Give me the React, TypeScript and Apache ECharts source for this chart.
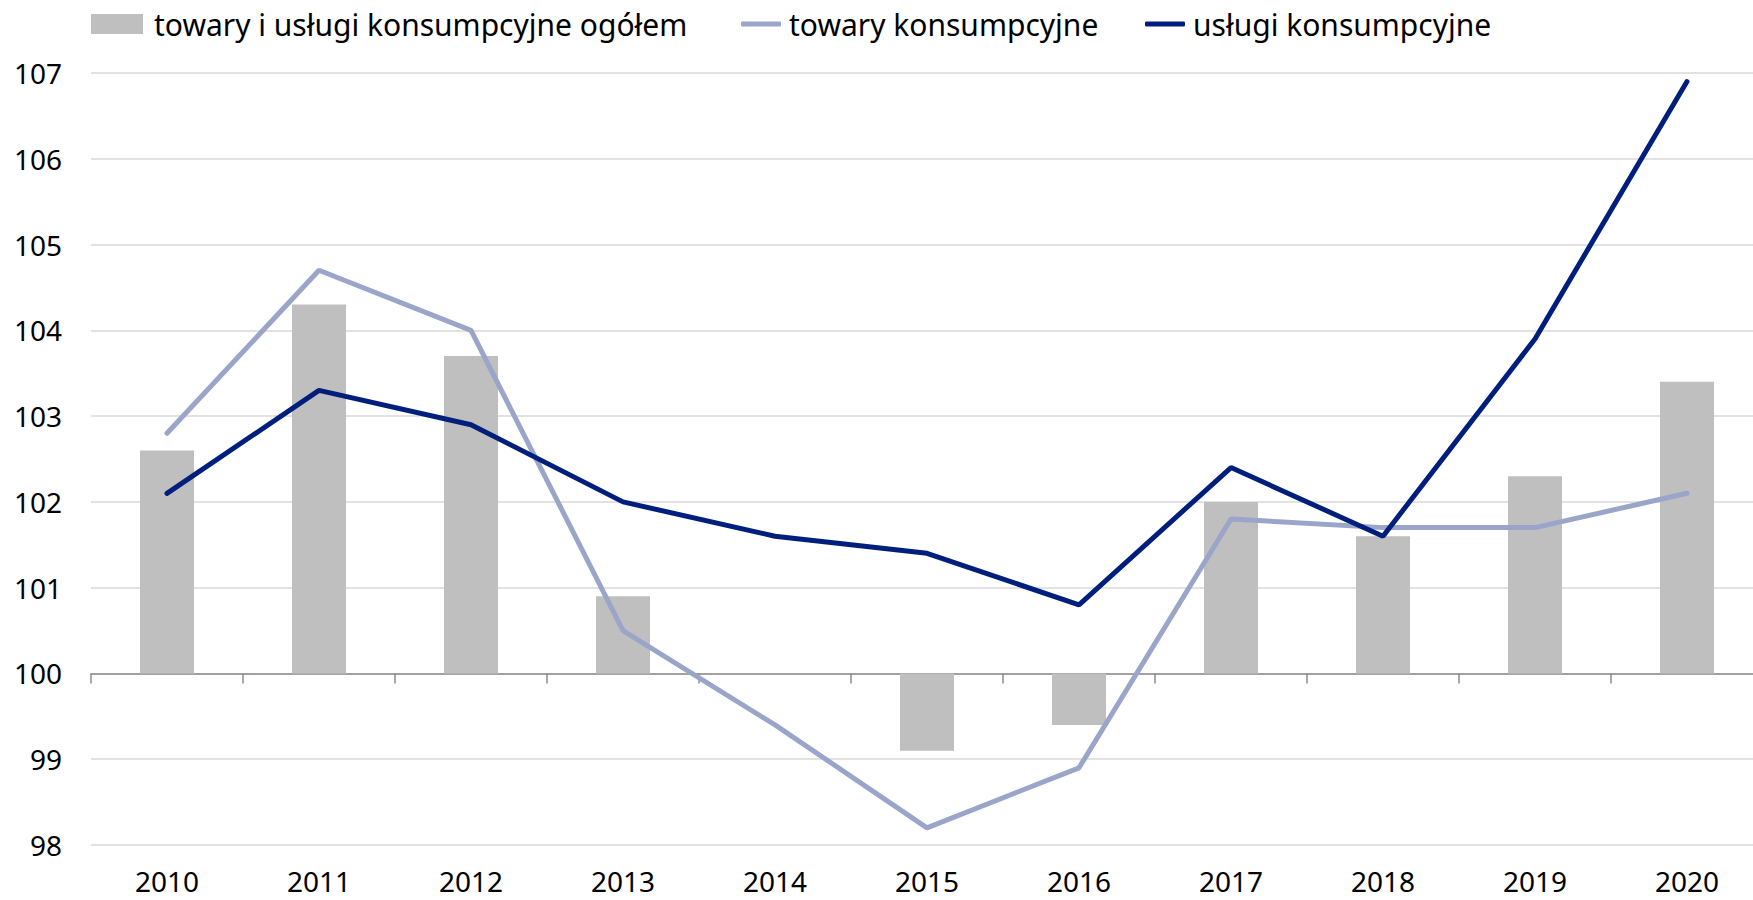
import React, { useEffect, useRef } from "react";
import * as echarts from "echarts";

const years = ["2010", "2011", "2012", "2013", "2014", "2015", "2016", "2017", "2018", "2019", "2020"];
const ogolem = [102.6, 104.3, 103.7, 100.9, 100.0, 99.1, 99.4, 102.0, 101.6, 102.3, 103.4];
const towary = [102.8, 104.7, 104.0, 100.5, 99.4, 98.2, 98.9, 101.8, 101.7, 101.7, 102.1];
const uslugi = [102.1, 103.3, 102.9, 102.0, 101.6, 101.4, 100.8, 102.4, 101.6, 103.9, 106.9];
const seriesNames = ["towary i usługi konsumpcyjne ogółem", "towary konsumpcyjne", "usługi konsumpcyjne"];
const baseValue = 100;
const yMin = 98;
const yMax = 107;

const FONT = "Noto Sans";

export default function App() {
  const ref = useRef<HTMLDivElement>(null);
  useEffect(() => {
    if (!ref.current) return;
    const chart = echarts.init(ref.current, undefined, { renderer: "svg" });
    const gridTop = 73;
    const gridBottom = 55;
    const plotH = 900 - gridTop - gridBottom;
    const baseOffset = -((baseValue - yMin) / (yMax - yMin)) * plotH;
    const legendText = { fontFamily: FONT, fontSize: 30, color: "#000", padding: [0, 0, 0, 3] };
    chart.setOption({
      animation: false,
      backgroundColor: "#fff",
      textStyle: { fontFamily: FONT },
      legend: [
        {
          data: [seriesNames[0]],
          left: 86,
          top: 4,
          itemWidth: 52,
          itemHeight: 20,
          icon: "rect",
          textStyle: { ...legendText, padding: [0, 0, 0, 6] },
        },
        {
          data: [seriesNames[1]],
          left: 736,
          top: 4,
          itemWidth: 40,
          itemHeight: 5,
          icon: "roundRect",
          textStyle: legendText,
        },
        {
          data: [seriesNames[2]],
          left: 1140,
          top: 4,
          itemWidth: 40,
          itemHeight: 5,
          icon: "roundRect",
          textStyle: legendText,
        },
      ],
      grid: {
        left: 91,
        right: -10,
        top: gridTop,
        bottom: gridBottom,
        containLabel: false,
        outerBoundsMode: "none",
      },
      xAxis: [
        {
          type: "category",
          data: years,
          position: "bottom",
          axisLine: { show: false },
          axisTick: { show: false },
          axisLabel: { fontFamily: FONT, fontSize: 28, color: "#000", margin: 22 },
        },
        {
          type: "category",
          data: years,
          position: "bottom",
          offset: baseOffset,
          axisLine: { show: true, lineStyle: { color: "#8c8c8c", width: 1.5 } },
          axisTick: { show: true, length: 10, lineStyle: { color: "#8c8c8c", width: 1.5 } },
          axisLabel: { show: false },
        },
      ],
      yAxis: [
        {
          type: "value",
          min: yMin,
          max: yMax,
          interval: 1,
          axisLine: { show: false },
          axisTick: { show: false },
          axisLabel: { fontFamily: FONT, fontSize: 28, color: "#000", margin: 29 },
          splitLine: { lineStyle: { color: "#d9d9d9", width: 1.5 } },
        },
        {
          type: "value",
          show: false,
          min: yMin - baseValue,
          max: yMax - baseValue,
          interval: 1,
          splitLine: { show: false },
        },
      ],
      series: [
        {
          name: seriesNames[0],
          type: "bar",
          xAxisIndex: 0,
          yAxisIndex: 1,
          barWidth: 54,
          data: ogolem.map((v) => +(v - baseValue).toFixed(2)),
          itemStyle: { color: "#bfbfbf" },
          z: 1,
        },
        {
          name: seriesNames[1],
          type: "line",
          xAxisIndex: 0,
          yAxisIndex: 0,
          data: towary,
          showSymbol: false,
          symbol: "none",
          itemStyle: { color: "#9aa5c9" },
          lineStyle: { color: "#9aa5c9", width: 5, cap: "round" },
          z: 3,
        },
        {
          name: seriesNames[2],
          type: "line",
          xAxisIndex: 0,
          yAxisIndex: 0,
          data: uslugi,
          showSymbol: false,
          symbol: "none",
          itemStyle: { color: "#001f7d" },
          lineStyle: { color: "#001f7d", width: 5, cap: "round" },
          z: 4,
        },
      ],
    });
    return () => chart.dispose();
  }, []);
  return <div ref={ref} style={{ position: "fixed", left: 0, top: 0, width: 1753, height: 900 }} />;
}
